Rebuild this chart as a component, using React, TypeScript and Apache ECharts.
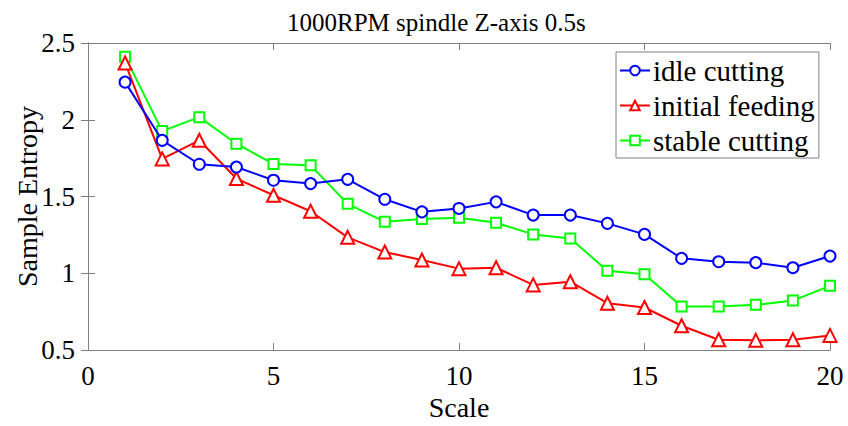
import React, { useEffect, useRef } from "react";
import * as echarts from "echarts";

const scales = [1, 2, 3, 4, 5, 6, 7, 8, 9, 10, 11, 12, 13, 14, 15, 16, 17, 18, 19, 20];
const idleCutting = [2.245, 1.866, 1.71, 1.692, 1.606, 1.584, 1.612, 1.482, 1.4, 1.422, 1.465, 1.379, 1.379, 1.325, 1.253, 1.097, 1.075, 1.069, 1.036, 1.112];
const initialFeeding = [2.37, 1.745, 1.866, 1.617, 1.508, 1.404, 1.234, 1.138, 1.086, 1.03, 1.036, 0.924, 0.945, 0.805, 0.777, 0.658, 0.567, 0.563, 0.567, 0.595];
const stableCutting = [2.411, 1.926, 2.017, 1.844, 1.712, 1.703, 1.452, 1.335, 1.353, 1.361, 1.329, 1.253, 1.227, 1.017, 0.994, 0.783, 0.783, 0.794, 0.822, 0.918];
const seriesNames = ["idle cutting", "initial feeding", "stable cutting"];
const titleText = "1000RPM spindle Z-axis 0.5s";

const FONT = "Liberation Serif";
const AXIS_GRAY = "#808080";

export default function App() {
  const ref = useRef<HTMLDivElement>(null);
  useEffect(() => {
    if (!ref.current) return;
    const chart = echarts.init(ref.current, undefined, { renderer: "svg" });
    const mk = (vals: number[]) => scales.map((s, i) => [s, vals[i]]);
    const axisCommon = {
      axisLine: { show: true, lineStyle: { color: AXIS_GRAY, width: 1 } },
      axisTick: { show: true, inside: true, length: 7, lineStyle: { color: AXIS_GRAY } },
      splitLine: { show: false },
    };
    chart.setOption({
      animation: false,
      backgroundColor: "#fff",
      textStyle: { fontFamily: FONT },
      title: {
        text: titleText,
        left: 282,
        top: 5,
        textStyle: { fontFamily: FONT, fontSize: 25, fontWeight: "normal", color: "#000" },
      },
      grid: { left: 88, right: 18, top: 43, bottom: 76, containLabel: false, outerBoundsMode: "none" },
      xAxis: [
        {
          type: "value",
          min: 0,
          max: 20,
          interval: 5,
          name: "Scale",
          nameLocation: "middle",
          nameGap: 43,
          nameMoveOverlap: false,
          nameTextStyle: { fontFamily: FONT, fontSize: 28, color: "#000" },
          axisLabel: { fontFamily: FONT, fontSize: 27, color: "#000", margin: 12 },
          ...axisCommon,
        },
        {
          type: "value",
          position: "top",
          min: 0,
          max: 20,
          interval: 5,
          axisLabel: { show: false },
          ...axisCommon,
        },
      ],
      yAxis: [
        {
          type: "value",
          min: 0.5,
          max: 2.5,
          interval: 0.5,
          name: "Sample Entropy",
          nameLocation: "middle",
          nameGap: 47,
          nameMoveOverlap: false,
          nameTextStyle: { fontFamily: FONT, fontSize: 28, color: "#000" },
          axisLabel: { fontFamily: FONT, fontSize: 27, color: "#000", margin: 13 },
          ...axisCommon,
        },
        {
          type: "value",
          position: "right",
          min: 0.5,
          max: 2.5,
          interval: 0.5,
          axisLabel: { show: false },
          ...axisCommon,
        },
      ],
      legend: {
        orient: "vertical",
        left: 616,
        top: 52,
        itemWidth: 30,
        itemHeight: 12,
        itemGap: 6,
        padding: [4, 4, 3, 3],
        borderColor: AXIS_GRAY,
        borderWidth: 1,
        backgroundColor: "#fff",
        textStyle: { fontFamily: FONT, fontSize: 29, color: "#000", padding: [0, 0, 0, -2] },
        data: seriesNames,
      },
      series: [
        {
          name: seriesNames[0],
          type: "line",
          data: mk(idleCutting),
          symbol: "circle",
          symbolSize: 11,
          color: "#0000ff",
          lineStyle: { width: 2, color: "#0000ff" },
          itemStyle: { color: "#fff", borderColor: "#0000ff", borderWidth: 2 },
          z: 3,
        },
        {
          name: seriesNames[1],
          type: "line",
          data: mk(initialFeeding),
          symbol: "triangle",
          symbolSize: 13,
          color: "#ff0000",
          lineStyle: { width: 2, color: "#ff0000" },
          itemStyle: { color: "#fff", borderColor: "#ff0000", borderWidth: 2 },
          z: 2,
        },
        {
          name: seriesNames[2],
          type: "line",
          data: mk(stableCutting),
          symbol: "rect",
          symbolSize: 10,
          color: "#00ff00",
          lineStyle: { width: 2, color: "#00ff00" },
          itemStyle: { color: "#fff", borderColor: "#00ff00", borderWidth: 2 },
          z: 1,
        },
      ],
    });
    return () => chart.dispose();
  }, []);
  return <div ref={ref} style={{ width: 848, height: 426, position: "absolute", left: 0, top: 0 }} />;
}
